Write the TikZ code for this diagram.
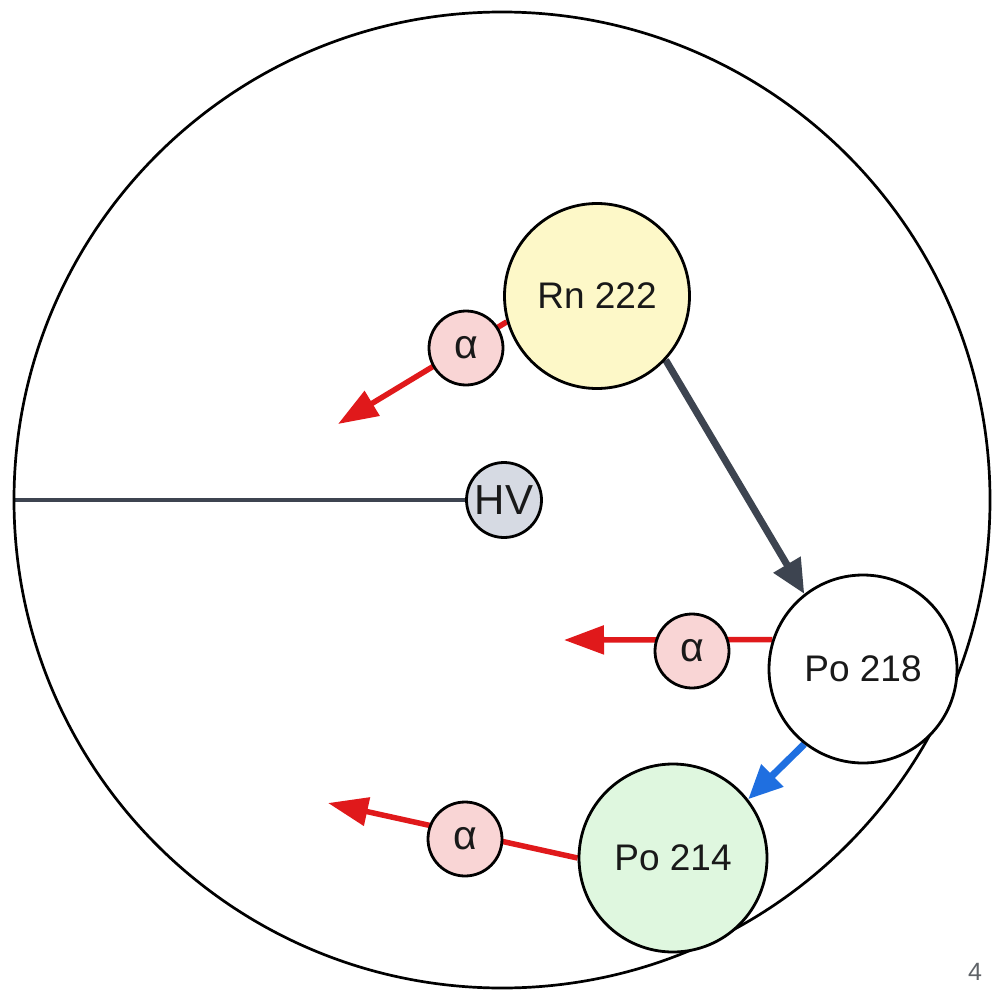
\documentclass[tikz,border=0pt]{standalone}
\usepackage{fontspec}
\setmainfont{Liberation Sans}
\usetikzlibrary{arrows.meta,backgrounds}
\definecolor{alphared}{HTML}{E0191B}
\definecolor{alphafill}{HTML}{F9D5D5}
\definecolor{rnfill}{HTML}{FDF8C8}
\definecolor{hvfill}{HTML}{D6DAE3}
\definecolor{pofourfill}{HTML}{DFF7DF}
\definecolor{slate}{HTML}{3D4450}
\definecolor{betablue}{HTML}{1F6FE0}
\definecolor{pagegray}{HTML}{5F6368}
\tikzset{
  ball/.style={circle, draw=black, line width=2.8pt, inner sep=0pt, text=black!90,
               font=\fontsize{37}{40}\selectfont},
  alphaball/.style={ball, minimum size=74pt, fill=alphafill, font=\fontsize{41}{44}\selectfont},
  bigball/.style={ball, minimum size=185pt},
  alphaarrow/.style={draw=alphared, line width=5.5pt,
               -{Triangle[length=40pt,width=28pt]}},
  decayarrow/.style={draw=slate, line width=7pt,
               -{Triangle[length=34pt,width=30pt]}},
  betaarrow/.style={draw=betablue, line width=7pt,
               -{Triangle[length=34pt,width=30pt]}},
}
\begin{document}
\begin{tikzpicture}[x=1pt,y=-1pt]
\useasboundingbox (0,0) rectangle (992,992);
\node[circle, draw=black, line width=2.7pt, minimum size=976pt, inner sep=0pt] (chamber) at (502,500) {};
\node[bigball, fill=rnfill] (rn) at (597,296) {Rn 222};
\node[bigball, minimum size=188pt, fill=white] (po218) at (863,669) {Po 218};
\node[bigball, minimum size=188pt, fill=pofourfill] (po214) at (673,858) {Po 214};
\node[ball, minimum size=75pt, fill=hvfill, font=\fontsize{42}{44}\selectfont] (hv) at (504,500) {HV};
\node[alphaball] (a1) at (466,348) {α};
\node[alphaball] (a2) at (692,651) {α};
\node[alphaball] (a3) at (465,839) {α};
\coordinate (t1) at (338,424);
\coordinate (t2) at (564,640);
\coordinate (t3) at (328,803);
\node[text=pagegray, font=\fontsize{25}{28}\selectfont] (page) at (975,972) {4};
\begin{pgfonlayer}{background}
  \draw[slate, line width=3.5pt] (chamber.west) -- (hv.west);
  \draw[alphaarrow] (rn.196) -- (t1);
  \draw[alphaarrow] (po218.162) -- (t2);
  \draw[alphaarrow] (po214.180) -- (t3);
  \draw[decayarrow] (rn.-43) -- (po218.128);
  \draw[betaarrow] (po218.-128) -- (po214.38);
\end{pgfonlayer}
\end{tikzpicture}
\end{document}
